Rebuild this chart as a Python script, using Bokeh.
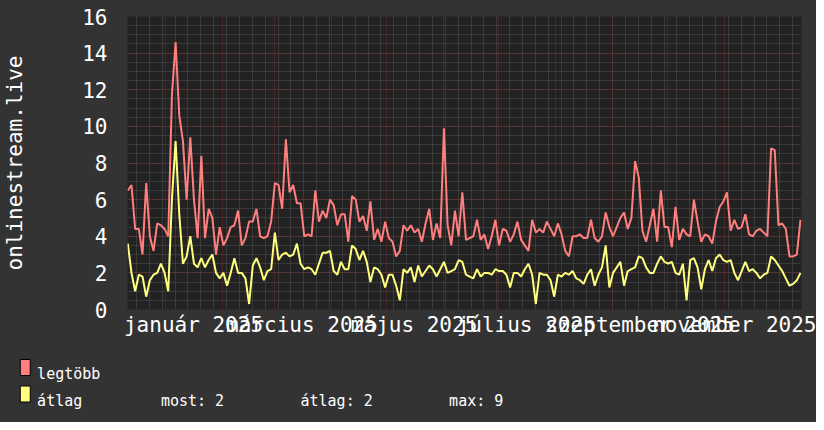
import pandas as pd
from bokeh.plotting import figure
from bokeh.models import Range1d, FixedTicker
from bokeh.layouts import column
from bokeh.core.properties import value
from bokeh.embed import file_html
from bokeh.resources import INLINE

# ---- data (2-day steps) ----
legtobb = [6.5, 6.8, 4.4, 4.4, 3.0, 6.9, 4.0, 3.2, 4.7, 4.6, 4.4, 4.0, 11.7, 14.6, 10.6, 9.2, 6.0, 9.4, 6.0, 3.9,
           8.4, 3.9, 5.5, 5.0, 3.0, 4.5, 3.5, 3.9, 4.5, 4.6, 5.4, 3.5, 3.9, 4.8, 4.8, 5.5, 4.0,
           3.9, 4.0, 4.8, 6.9, 6.8, 5.5, 9.3, 6.4, 6.8, 5.8, 5.8, 4.0, 4.1, 4.0, 6.5, 4.8, 5.4, 5.0, 6.0,
           5.7, 4.6, 5.2, 5.2, 3.7, 6.2, 6.0, 4.8, 5.1, 4.3, 5.9, 3.8, 4.4, 3.7, 4.8, 3.9, 3.7, 2.9,
           3.2, 4.6, 4.3, 4.6, 4.2, 4.4, 3.7, 4.7, 5.5, 3.8, 4.7, 3.9, 9.9, 4.6, 3.5, 5.4, 4.0, 6.4, 3.8,
           3.9, 4.0, 4.9, 3.8, 4.1, 3.3, 4.0, 4.9, 3.5, 4.4, 4.3, 3.7, 4.1, 4.8, 3.8, 3.5, 3.2, 4.9,
           4.2, 4.4, 4.2, 4.8, 4.4, 4.0, 4.7, 4.1, 3.2, 2.9, 4.0, 4.0, 4.1, 3.9, 3.9, 4.9, 3.9, 3.7, 4.0,
           5.3, 4.5, 4.0, 4.5, 5.0, 5.3, 4.4, 5.0, 8.1, 7.2, 4.3, 3.7, 4.6, 5.5, 3.7, 6.5, 4.5, 4.5,
           3.4, 5.6, 3.8, 4.4, 4.1, 4.0, 6.0, 4.8, 3.7, 4.1, 4.0, 3.6, 4.8, 5.6, 5.9, 6.4, 4.3, 4.9,
           4.4, 4.5, 5.2, 4.1, 4.0, 4.3, 4.4, 4.2, 4.0, 8.8, 8.7, 4.6, 4.7, 4.4, 2.9, 2.9, 3.0, 4.9]
atlag = [3.6, 2.0, 1.0, 1.9, 1.8, 0.7, 1.6, 1.9, 2.0, 2.5, 2.0, 1.0, 6.0, 9.2, 5.2, 2.5, 2.9, 4.0, 2.5, 2.3,
         2.8, 2.3, 2.7, 3.0, 2.0, 1.7, 2.0, 1.3, 2.0, 2.8, 2.0, 2.0, 1.7, 0.3, 2.4, 2.8, 2.3,
         1.6, 2.1, 2.2, 4.2, 2.7, 3.0, 3.1, 2.9, 3.0, 3.6, 2.5, 2.2, 2.3, 2.2, 1.9, 2.5, 3.1, 3.1, 3.2,
         2.1, 1.9, 2.6, 2.2, 2.2, 3.5, 3.3, 2.7, 3.2, 2.6, 1.5, 2.3, 2.2, 1.9, 1.2, 1.9, 1.9, 1.3,
         0.5, 2.2, 2.0, 2.3, 1.5, 2.4, 1.8, 2.1, 2.4, 2.2, 1.8, 2.2, 2.6, 2.0, 2.1, 2.2, 2.7, 2.6, 1.9,
         1.8, 1.7, 2.2, 1.8, 2.0, 2.0, 1.9, 2.2, 2.1, 2.1, 1.9, 1.2, 2.0, 2.0, 1.8, 2.2, 2.5, 1.9,
         0.3, 2.0, 1.9, 1.9, 1.6, 0.7, 1.9, 1.8, 2.0, 1.9, 2.1, 1.7, 1.6, 1.4, 1.9, 2.2, 1.3, 1.9, 2.3,
         3.5, 1.2, 2.0, 2.3, 2.6, 1.3, 2.1, 2.2, 2.3, 2.9, 2.8, 2.3, 2.0, 2.0, 2.5, 2.9, 2.6, 2.5,
         2.6, 2.0, 1.9, 2.5, 0.5, 2.7, 2.8, 2.3, 1.1, 2.2, 2.7, 2.1, 2.8, 3.0, 2.7, 2.6, 2.7, 2.0,
         1.6, 2.1, 2.6, 2.1, 2.2, 2.0, 1.7, 1.9, 2.0, 2.9, 2.7, 2.4, 2.1, 1.7, 1.3, 1.4, 1.6, 2.0]
dates = pd.date_range("2024-12-11 06:00", periods=len(atlag), freq="2D")

month_labels = ["január 2025", "március 2025", "május 2025", "július 2025",
                "szeptember 2025", "november 2025"]
label_dates = ["2025-01-16", "2025-03-16", "2025-05-16", "2025-07-16", "2025-09-16", "2025-11-16"]
month_starts = pd.date_range("2025-01-01", "2025-12-01", freq="MS")
week_starts = pd.date_range("2024-12-16", "2025-12-12", freq="7D")
y_major = [0, 2, 4, 6, 8, 10, 12, 14, 16]
y_minor = [i * 0.5 for i in range(33)]

series_names = ["legtöbb", "átlag"]
y_title = "onlinestream.live"


def ms(d):
    return int(pd.Timestamp(d).value // 10**6)


BG = "#333333"
CANVAS = "#222222"
RED = "#ff7f7f"
YEL = "#ffff7f"
FONT = "DejaVu Sans Mono"

W, H1, H2 = 816, 350, 72
FL, FR, FT, FB = 123, 801, 16, 309   # frame edges in canvas pixels

p = figure(width=W, height=H1, x_axis_type="datetime", output_backend="svg",
           toolbar_location=None,
           x_range=Range1d(ms("2024-12-11 02:00"), ms("2025-12-12 19:00")),
           y_range=Range1d(0, 16),
           min_border_left=FL, min_border_right=W - FR, min_border_top=FT,
           min_border_bottom=H1 - FB,
           background_fill_color=CANVAS, border_fill_color=BG, outline_line_color=None,
           styles={"background-color": BG})
p.frame_align = False

# grids
p.xgrid.ticker = FixedTicker(ticks=[ms(d) for d in month_starts],
                             minor_ticks=[ms(d) for d in week_starts])
p.ygrid.ticker = FixedTicker(ticks=y_major, minor_ticks=y_minor)
for g in (p.xgrid, p.ygrid):
    g.grid_line_color = "#8a2c2c"
    g.grid_line_alpha = 0.75
    g.grid_line_dash = "1 1"
    g.minor_grid_line_color = "#5a5a5a"
    g.minor_grid_line_alpha = 0.85
    g.minor_grid_line_dash = "1 1"

# axes
xa = p.xaxis[0]
xa.ticker = FixedTicker(ticks=[ms(d) for d in label_dates])
xa.major_label_overrides = {ms(d): lab for d, lab in zip(label_dates, month_labels)}
ya = p.yaxis[0]
ya.ticker = FixedTicker(ticks=y_major)
ya.axis_label = y_title
for ax in (xa, ya):
    ax.axis_line_color = None
    ax.major_tick_line_color = None
    ax.minor_tick_line_color = None
    ax.major_tick_out = 0
    ax.major_tick_in = 0
    ax.major_label_text_font = FONT
    ax.major_label_text_font_size = "21px"
    ax.major_label_text_color = "#ffffff"
xa.major_label_standoff = 3
ya.major_label_standoff = 20
ya.axis_label_text_font = FONT
ya.axis_label_text_font_size = "21px"
ya.axis_label_text_font_style = "normal"
ya.axis_label_text_color = "#ffffff"
ya.axis_label_standoff = 52

# lines
p.line(dates, legtobb, line_color=RED, line_width=2)
p.line(dates, atlag, line_color=YEL, line_width=2)

# legend strip (its ranges are canvas pixels of the whole picture)
p2 = figure(width=W, height=H2, output_backend="svg", toolbar_location=None,
            x_range=Range1d(0, W), y_range=Range1d(H1 + H2, H1),
            x_axis_location=None, y_axis_location=None, min_border=0,
            background_fill_color=BG, border_fill_color=BG, outline_line_color=None,
            styles={"background-color": BG})
p2.frame_align = False
p2.grid.visible = False
p2.rect(x=[24.75, 24.75], y=[367, 393.5], width=10, height=16, fill_color=[RED, YEL],
        line_color="#000000", line_width=1)
stats = [f"most: {atlag[-1]:.0f}", f"átlag: {sum(atlag) / len(atlag):.0f}",
         f"max: {max(atlag):.0f}"]
p2.text(x=[36.6, 36.6, 160.4, 300, 448.6], y=[373, 400.4, 400.4, 400.4, 400.4],
        text=series_names + stats, text_font=value(FONT), text_font_size="15px",
        text_color="#ffffff", text_baseline="alphabetic")

layout = column(p, p2, spacing=0, styles={"background-color": BG})
open("out.html", "w").write(file_html(layout, INLINE))
